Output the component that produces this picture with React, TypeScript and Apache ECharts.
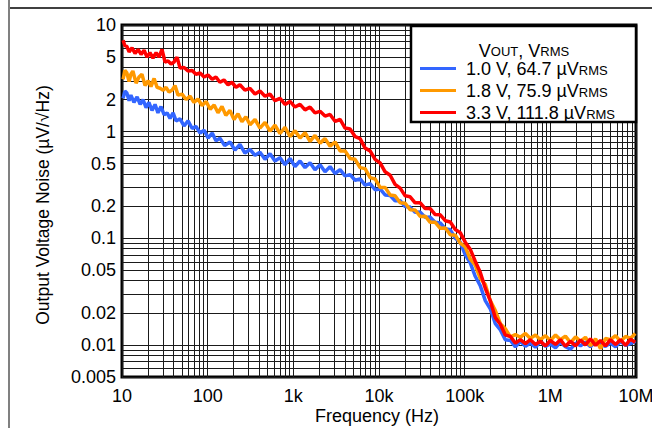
import React, { useEffect, useRef } from 'react';
import * as echarts from 'echarts';

const FONT = '"Liberation Sans", Arial, Helvetica, sans-serif';

const seriesNames = ['1.0 V, 64.7 µV', '1.8 V, 75.9 µV', '3.3 V, 111.8 µV'];
const seriesColors = ['#3366ff', '#ff9900', '#ff0000'];

const noise1V0: [number, number][] = [
  [10.3, 2.05], [10.8, 2.4], [11.4, 2.3], [12.1, 1.95], [12.7, 2.2], [13.8, 1.88], [15.0, 2.12], [16.3, 1.8],
  [17.6, 2.0], [19.1, 1.68], [20.6, 1.88], [22.4, 1.58], [24.3, 1.8], [26.3, 1.5], [28.5, 1.72], [31, 1.44],
  [33.6, 1.5], [36.4, 1.33], [39.5, 1.5], [42.8, 1.26], [47.6, 1.32], [53, 1.13], [59, 1.26], [66, 1.07],
  [73, 1.12], [81.5, 0.97], [91, 1.03], [101, 0.87], [113, 0.97], [125, 0.82], [139, 0.87], [158, 0.74],
  [182, 0.8], [208, 0.67], [238, 0.76], [272, 0.63], [312, 0.68], [357, 0.6], [408, 0.64], [467, 0.55],
  [534, 0.62], [611, 0.53], [699, 0.57], [800, 0.49], [915, 0.56], [1046, 0.47], [1197, 0.53], [1370, 0.46],
  [1567, 0.51], [1790, 0.44], [2050, 0.49], [2345, 0.42], [2683, 0.47], [3070, 0.405], [3512, 0.44], [4018, 0.385],
  [4596, 0.395], [5258, 0.35], [6015, 0.36], [6880, 0.315], [7873, 0.325], [9000, 0.285], [10300, 0.29],
  [11780, 0.255], [13500, 0.252], [15400, 0.225], [17660, 0.225], [20200, 0.198], [23100, 0.196], [26400, 0.175],
  [30300, 0.176], [34600, 0.157], [39600, 0.158], [45300, 0.141], [51900, 0.139], [59400, 0.123], [67900, 0.12],
  [77700, 0.1], [88800, 0.092], [101600, 0.07], [116000, 0.059], [132800, 0.044], [152000, 0.036],
  [174000, 0.026], [199000, 0.0218], [228000, 0.0158], [261000, 0.0138], [298000, 0.0112], [342000, 0.011],
  [391000, 0.0096], [447000, 0.0108], [512000, 0.0097], [585000, 0.0104], [670000, 0.0095], [766000, 0.0108],
  [877000, 0.0097], [1.0e6, 0.0102], [1.15e6, 0.0094], [1.31e6, 0.0106], [1.5e6, 0.0096], [1.72e6, 0.0091],
  [1.97e6, 0.0104], [2.25e6, 0.0098], [2.57e6, 0.0106], [2.94e6, 0.0096], [3.37e6, 0.0108], [3.85e6, 0.0101],
  [4.4e6, 0.0097], [5.04e6, 0.0104], [5.77e6, 0.0096], [6.6e6, 0.0108], [7.55e6, 0.0099], [8.6e6, 0.0103],
  [9.8e6, 0.0108],
];

const noise1V8: [number, number][] = [
  [10.3, 3.1], [10.8, 3.75], [11.4, 3.55], [12.1, 2.95], [12.7, 3.45], [13.4, 3.7], [14.6, 2.85], [15.8, 3.25],
  [17.1, 3.45], [18.6, 2.7], [20.2, 3.0], [21.8, 2.65], [23.7, 3.15], [25.7, 2.6], [27.8, 2.55], [30.2, 2.45],
  [32.7, 2.6], [35.4, 2.35], [38.4, 2.45], [41.6, 2.7], [45.1, 2.2], [50.2, 2.25], [56, 2.0], [62.3, 2.15],
  [69, 1.88], [77, 2.02], [86, 1.76], [96, 1.92], [107, 1.62], [119, 1.78], [132, 1.5], [147, 1.72],
  [163, 1.42], [182, 1.58], [203, 1.3], [226, 1.47], [251, 1.24], [279, 1.38], [312, 1.16], [357, 1.3],
  [408, 1.08], [467, 1.22], [534, 1.01], [611, 1.15], [699, 0.96], [800, 1.1], [915, 0.9], [1046, 1.02],
  [1197, 0.87], [1370, 0.98], [1567, 0.81], [1790, 0.92], [2050, 0.78], [2345, 0.86], [2683, 0.73], [3070, 0.8],
  [3512, 0.66], [4018, 0.66], [4596, 0.56], [5258, 0.55], [6015, 0.46], [6880, 0.45], [7873, 0.37], [9000, 0.36],
  [10300, 0.3], [11780, 0.3], [13500, 0.255], [15400, 0.25], [17660, 0.215], [20200, 0.213], [23100, 0.185],
  [26400, 0.184], [30300, 0.16], [34600, 0.161], [39600, 0.141], [45300, 0.141], [51900, 0.124], [59400, 0.125],
  [67900, 0.108], [77700, 0.107], [88800, 0.09], [101600, 0.083], [116000, 0.064], [132800, 0.056],
  [152000, 0.042], [174000, 0.037], [199000, 0.026], [228000, 0.021], [261000, 0.0158], [298000, 0.0142],
  [342000, 0.0119], [391000, 0.0125], [447000, 0.0118], [512000, 0.0128], [585000, 0.0115], [670000, 0.0124],
  [766000, 0.0112], [877000, 0.0122], [1.0e6, 0.011], [1.15e6, 0.0124], [1.31e6, 0.0112], [1.5e6, 0.0121],
  [1.72e6, 0.0105], [1.97e6, 0.0119], [2.25e6, 0.0108], [2.57e6, 0.0118], [2.94e6, 0.0098], [3.37e6, 0.0114],
  [3.85e6, 0.0092], [4.4e6, 0.0115], [5.04e6, 0.0112], [5.77e6, 0.0122], [6.6e6, 0.0108], [7.55e6, 0.012],
  [8.6e6, 0.0115], [9.8e6, 0.0128],
];

const noise3V3: [number, number][] = [
  [10.3, 7.2], [10.8, 6.4], [11.4, 6.3], [12.1, 5.6], [13.1, 6.1], [14.2, 5.4], [15.4, 5.9], [16.7, 5.3],
  [18.1, 5.8], [19.6, 5.0], [21.2, 5.5], [23.0, 4.9], [25.0, 5.5], [27.0, 5.0], [29.3, 5.9], [31.8, 4.5],
  [34.5, 4.6], [37.4, 4.3], [40.5, 4.5], [43.9, 5.0], [47.6, 3.95], [53, 4.0], [59, 3.7], [66, 3.75],
  [73, 3.45], [81.5, 3.55], [91, 3.25], [101, 3.4], [113, 3.1], [125, 3.25], [139, 2.9], [155, 3.05],
  [173, 2.75], [193, 2.9], [214, 2.6], [238, 2.75], [272, 2.45], [312, 2.55], [357, 2.25], [408, 2.4],
  [467, 2.15], [534, 2.25], [611, 1.95], [699, 2.05], [800, 1.8], [915, 1.92], [1046, 1.7], [1197, 1.8],
  [1370, 1.6], [1567, 1.7], [1790, 1.5], [2050, 1.55], [2345, 1.4], [2683, 1.45], [3070, 1.25], [3512, 1.3],
  [4018, 1.08], [4596, 1.06], [5258, 0.9], [6015, 0.86], [6880, 0.7], [7873, 0.66], [9000, 0.55], [10300, 0.51],
  [11780, 0.42], [13500, 0.39], [15400, 0.32], [17660, 0.295], [20200, 0.25], [23100, 0.245], [26400, 0.215],
  [30300, 0.215], [34600, 0.19], [39600, 0.19], [45300, 0.167], [51900, 0.166], [59400, 0.146], [67900, 0.142],
  [77700, 0.121], [88800, 0.113], [101600, 0.092], [116000, 0.079], [132800, 0.061], [152000, 0.048],
  [174000, 0.034], [199000, 0.026], [228000, 0.018], [261000, 0.0156], [298000, 0.0124], [342000, 0.012],
  [391000, 0.0104], [447000, 0.0112], [512000, 0.0103], [585000, 0.0112], [670000, 0.0101], [766000, 0.0108],
  [877000, 0.0098], [1.0e6, 0.011], [1.15e6, 0.0101], [1.31e6, 0.0112], [1.5e6, 0.0097], [1.72e6, 0.0108],
  [1.97e6, 0.0098], [2.25e6, 0.0111], [2.57e6, 0.01], [2.94e6, 0.0114], [3.37e6, 0.0099], [3.85e6, 0.011],
  [4.4e6, 0.0098], [5.04e6, 0.0112], [5.77e6, 0.0101], [6.6e6, 0.0112], [7.55e6, 0.0099], [8.6e6, 0.0113],
  [9.8e6, 0.0106],
];

const xTickValues = [10, 100, 1e3, 1e4, 1e5, 1e6, 1e7];
const xTickLabels = ['10', '100', '1k', '10k', '100k', '1M', '10M'];
const yTickValues = [0.005, 0.01, 0.02, 0.05, 0.1, 0.2, 0.5, 1, 2, 5, 10];
const yTickLabels = ['0.005', '0.01', '0.02', '0.05', '0.1', '0.2', '0.5', '1', '2', '5', '10'];
const mantissas = [1, 2, 3, 4, 5, 6, 7, 8, 9];

function decadeGrid(fromExp: number, toExp: number, firstMantissa: number): number[] {
  const out: number[] = [];
  for (let e = fromExp; e < toExp; e++) {
    for (const m of mantissas) {
      if (e === fromExp && m < firstMantissa) continue;
      out.push(Number((m * Math.pow(10, e)).toPrecision(6)));
    }
  }
  out.push(Math.pow(10, toExp));
  return out;
}

const xGrid = decadeGrid(1, 7, 1);
const yGrid = decadeGrid(-3, 1, 5);

function labelFor(v: number, values: number[], labels: string[]): string {
  for (let i = 0; i < values.length; i++) {
    if (Math.abs(Math.log10(v / values[i])) < 0.01) return labels[i];
  }
  return '';
}

export default function App() {
  const ref = useRef<HTMLDivElement>(null);

  useEffect(() => {
    if (!ref.current) return;
    const chart = echarts.init(ref.current, undefined, { renderer: 'svg' });
    const dataSets = [noise1V0, noise1V8, noise3V3];
    const legendRich = {
      a: { fontSize: 18, lineHeight: 17, verticalAlign: 'top', fontFamily: FONT, color: '#000' },
      b: { fontSize: 13, lineHeight: 8, verticalAlign: 'bottom', fontFamily: FONT, color: '#000' },
    };
    const titleRich = {
      a: { fontSize: 18, lineHeight: 16, verticalAlign: 'top', fontFamily: FONT, color: '#000' },
      b: { fontSize: 13, lineHeight: 6, verticalAlign: 'bottom', fontFamily: FONT, color: '#000' },
    };
    const option: any = {
      animation: false,
      backgroundColor: '#ffffff',
      textStyle: { fontFamily: FONT },
      grid: {
        left: 122, top: 25, right: 16, bottom: 51,
        show: true, borderColor: '#000', borderWidth: 3, backgroundColor: 'transparent',
        containLabel: false, outerBoundsMode: 'none',
      },
      xAxis: {
        type: 'log', logBase: 10, min: 10, max: 1e7,
        axisLine: { show: false },
        axisTick: { show: false, customValues: xGrid },
        splitLine: { show: true, lineStyle: { color: '#1a1a1a', width: 1 } },
        axisLabel: {
          customValues: xTickValues,
          formatter: (v: number) => labelFor(v, xTickValues, xTickLabels),
          fontSize: 18, color: '#000', margin: 10, fontFamily: FONT,
          showMinLabel: true, showMaxLabel: true, hideOverlap: false,
        },
      },
      yAxis: {
        type: 'log', logBase: 10, min: 0.005, max: 10,
        axisLine: { show: false },
        axisTick: { show: false, customValues: yGrid },
        splitLine: { show: true, lineStyle: { color: '#1a1a1a', width: 1 } },
        axisLabel: {
          customValues: yTickValues,
          formatter: (v: number) => labelFor(v, yTickValues, yTickLabels),
          fontSize: 18, color: '#000', margin: 6, fontFamily: FONT,
          showMinLabel: true, showMaxLabel: true, hideOverlap: false,
        },
      },
      legend: {
        left: 420, top: 60, orient: 'vertical', padding: 0,
        itemWidth: 36, itemHeight: 3, itemGap: 4, icon: 'rect',
        selectedMode: false, z: 6,
        data: seriesNames,
        formatter: (name: string) => `{a|${name}}{b|RMS}`,
        textStyle: { fontSize: 18, fontFamily: FONT, color: '#000', padding: [0, 0, 0, 5], rich: legendRich },
      },
      graphic: [
        { type: 'line', silent: true, shape: { x1: 9, y1: 0, x2: 9, y2: 428 }, style: { stroke: '#808080', lineWidth: 2 } },
        { type: 'line', silent: true, shape: { x1: 10, y1: 8, x2: 652, y2: 8 }, style: { stroke: '#000', lineWidth: 1.5 } },
        {
          type: 'rect', silent: true, z: 5,
          shape: { x: 411, y: 26, width: 225, height: 96 },
          style: { fill: '#fff', stroke: '#000', lineWidth: 2.5 },
        },
        {
          type: 'text', silent: true, z: 7, x: 524, y: 50,
          style: {
            text: '{a|V}{b|OUT}{a|, V}{b|RMS}', rich: titleRich,
            align: 'center', verticalAlign: 'middle', fill: '#000',
          },
        },
        {
          type: 'text', silent: true, z: 7, x: 43, y: 205, rotation: Math.PI / 2,
          style: {
            text: 'Output Voltage Noise (µV/√Hz)', font: `17.5px ${FONT}`,
            align: 'center', verticalAlign: 'middle', fill: '#000',
          },
        },
        {
          type: 'text', silent: true, z: 7, x: 377, y: 416,
          style: {
            text: 'Frequency (Hz)', font: `18px ${FONT}`,
            align: 'center', verticalAlign: 'middle', fill: '#000',
          },
        },
      ],
      series: dataSets.map((d, i) => ({
        name: seriesNames[i],
        type: 'line',
        data: d,
        showSymbol: false,
        symbol: 'none',
        silent: true,
        z: 2 + i,
        color: seriesColors[i],
        lineStyle: { color: seriesColors[i], width: 3.5 },
      })),
    };
    chart.setOption(option);
    return () => chart.dispose();
  }, []);

  return (
    <div
      ref={ref}
      style={{ position: 'fixed', left: 0, top: 0, width: 652, height: 428, background: '#fff' }}
    />
  );
}
